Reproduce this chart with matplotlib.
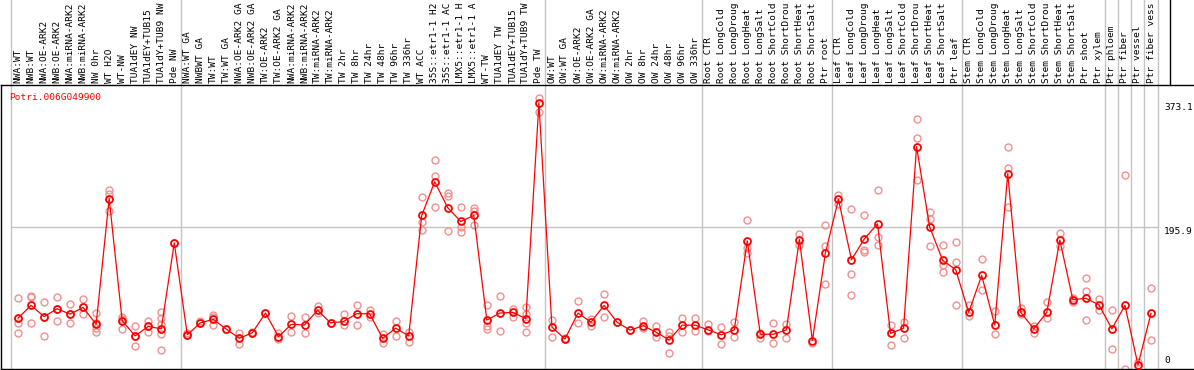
import matplotlib
matplotlib.use("Agg")
import matplotlib.pyplot as plt
from matplotlib.lines import Line2D
from matplotlib import transforms

gene_id = "Potri.006G049900"

# labels as far as they show in the strip (long ones are cut at 14 chars)
sample_labels = [
    "NWA:WT", "NWB:WT", "NWA:OE-ARK2", "NWB:OE-ARK2", "NWA:miRNA-ARK2", "NWB:miRNA-ARK2",
    "NW 0hr", "WT H2O", "WT-NW", "TUA1dEY NW", "TUA1dEY+TUB15", "TUA1dY+TUB9 NW", "Pde NW",
    "NWA:WT GA", "NWBWT GA", "TW:WT", "TW:WT GA", "NWA:OE-ARK2 GA", "NWB:OE-ARK2 GA",
    "TW:OE-ARK2", "TW:OE-ARK2 GA", "NWA:miRNA-ARK2", "NWB:miRNA-ARK2", "TW:miRNA-ARK2",
    "TW:miRNA-ARK2", "TW 2hr", "TW 8hr", "TW 24hr", "TW 48hr", "TW 96hr", "TW 336hr",
    "WT ACC", "35S::etr1-1 H2", "35S::etr1-1 AC", "LMX5::etr1-1 H", "LMX5::etr1-1 A",
    "WT-TW", "TUA1dEY TW", "TUA1dEY+TUB15", "TUA1dY+TUB9 TW", "Pde TW",
    "OW:WT", "OW:WT GA", "OW:OE-ARK2", "OW:OE-ARK2 GA", "OW:miRNA-ARK2", "OW:miRNA-ARK2",
    "OW 2hr", "OW 8hr", "OW 24hr", "OW 48hr", "OW 96hr", "OW 336hr",
    "Root CTR", "Root LongCold", "Root LongDroug", "Root LongHeat", "Root LongSalt",
    "Root ShortCold", "Root ShortDrou", "Root ShortHeat", "Root ShortSalt", "Ptr root",
    "Leaf CTR", "Leaf LongCold", "Leaf LongDroug", "Leaf LongHeat", "Leaf LongSalt",
    "Leaf ShortCold", "Leaf ShortDrou", "Leaf ShortHeat", "Leaf ShortSalt", "Ptr leaf",
    "Stem CTR", "Stem LongCold", "Stem LongDroug", "Stem LongHeat", "Stem LongSalt",
    "Stem ShortCold", "Stem ShortDrou", "Stem ShortHeat", "Stem ShortSalt", "Ptr shoot",
    "Ptr xylem", "Ptr phloem", "Ptr fiber", "Ptr vessel", "Ptr fiber vess",
]

# samples per block (gray separators)
group_sizes = [13, 28, 12, 10, 10, 11, 1, 1, 1, 1]

mean_values = [
    66.7, 85, 69, 80, 72.5, 82, 58, 237, 63, 41.5, 55, 51.5, 174,
    43, 60, 65, 51, 38, 46, 74, 40.5, 58, 57, 78, 60, 62, 73, 73, 38, 52.5, 41.5,
    213, 261, 224, 204.5, 213, 64, 74, 75, 66, 373.1,
    54, 37, 74, 61, 85, 61, 49.6, 56, 46.7, 35.7, 56.7, 56.7,
    50, 43, 50, 177, 43.8, 43.8, 50, 178.7, 34.8, 159.7,
    236, 150, 180, 201, 45, 52.4, 311, 197, 149, 136,
    75, 127.7, 57, 272.7, 75, 51.5, 75, 178, 93, 95, 85.8,
    51.5, 85, 0, 73.6,
]

replicates = [
    [95, 60, 45, 67], [99, 97, 60], [90, 69, 42], [97, 62, 80], [87, 60, 72],
    [94, 72, 82], [74, 47, 52, 60], [249, 243, 220], [69, 51, 66], [56, 27, 41],
    [63, 47, 55], [76, 67, 58, 44, 21], [174],
    [43, 45], [60, 62], [71, 57, 68], [51], [46, 30], [46, 47], [74], [46, 37],
    [70, 47], [69, 45.5], [84, 74], [60], [72, 57], [86, 57], [78.6, 68], [44, 32],
    [62, 42], [47.6, 33], [240, 204, 193], [292, 269, 225], [245.5, 240.7, 191.6],
    [225.5, 196, 189], [223, 219, 200], [85, 55, 51], [98.7, 48.6], [80, 68],
    [83, 73, 60, 47.6], [381, 361],
    [64, 39.6], [37, 39], [90.5, 59.6], [65, 56], [101, 68], [61], [49.6], [63, 52],
    [56, 40.5], [47.6, 16.7, 42], [66.7, 46.7], [66.7, 48],
    [58.6, 48], [54, 29.6], [61, 39.6], [206, 167, 160], [46, 39], [59.6, 31],
    [58, 38], [187, 171.6], [32], [198.8, 169, 115.8],
    [241.7, 228.8], [221.7, 130, 100], [214, 164.5, 161], [250, 182.6, 170.6],
    [57, 28.6], [61, 39], [350, 324, 263], [218, 208, 169], [171.6, 143, 133],
    [175, 147, 85.8],
    [85.8, 70], [151.6, 106.8], [77, 44], [311, 281, 225.5], [80.5, 72], [55, 45],
    [90, 66.7], [188, 169], [96, 90], [124, 105, 64], [94, 77.7],
    [78.6, 23], [270, -5], [4.7], [109, 35.6],
]

y_ticks = [0, 195.9, 373.1]

plt.rcParams["font.family"] = "DejaVu Sans Mono"

W, H = 1194, 370
fig = plt.figure(figsize=(W / 100, H / 100), dpi=100)
# plot area in pixels: x 1..1194, y 85..369 (from top)
ax = fig.add_axes([1 / W, 1 / H, (W - 1) / W, 284 / H])

step = 13.023
xmin = -17 / step
ax.set_xlim(xmin, xmin + (W - 1) / step)
ax.set_ylim(-5.7, 398.9)
ax.set_xticks([])
ax.set_yticks([])
for side in ["top", "left", "bottom"]:
    ax.spines[side].set_color("black")
    ax.spines[side].set_linewidth(1)
ax.spines["right"].set_visible(False)

xs = list(range(len(mean_values)))

# block separators, running up through the label strip
bounds = [-0.5]
for g in group_sizes:
    bounds.append(bounds[-1] + g)
for b in bounds:
    ax.axvline(b, ymin=0, ymax=369 / 284, color="#c4c4c4", lw=1, clip_on=False, zorder=1)

ax.hlines(y_ticks[1], bounds[0], bounds[-1], color="#c4c4c4", lw=1, zorder=1)

# replicates
for x, reps in zip(xs, replicates):
    ax.plot([x] * len(reps), reps, "o", ls="none", ms=5, mfc="none",
            mec="#f09090", mew=1, zorder=2, clip_on=False)

ax.plot(xs, mean_values, "-", color="red", lw=0.9, zorder=3)
ax.plot(xs, mean_values, "o", ls="none", ms=5, mfc="none", mec="red", mew=1.3, zorder=4,
        clip_on=False)

# rotated sample labels above the frame
tr = transforms.blended_transform_factory(ax.transData, ax.transAxes)
for x, lab in zip(xs, sample_labels):
    ax.text(x, 1 + 2 / 284, lab, transform=tr, rotation=90, ha="center", va="bottom",
            fontsize=6.8, color="black")

# value labels at the right
for v in y_ticks:
    ax.text(88.0, v, f"{v:g}" if v == 0 else f"{v:.1f}", ha="left",
            va="bottom" if v == 0 else "top", fontsize=6.8, color="black")

ax.text(8 / W, (369 - 97) / 284, gene_id, transform=ax.transAxes, ha="left", va="center",
        fontsize=6.8, color="red")

fig.add_artist(Line2D([1170 / W, 1170 / W], [(H - 85) / H, 1], color="black", lw=1))

fig.savefig("out.png", dpi=100)
